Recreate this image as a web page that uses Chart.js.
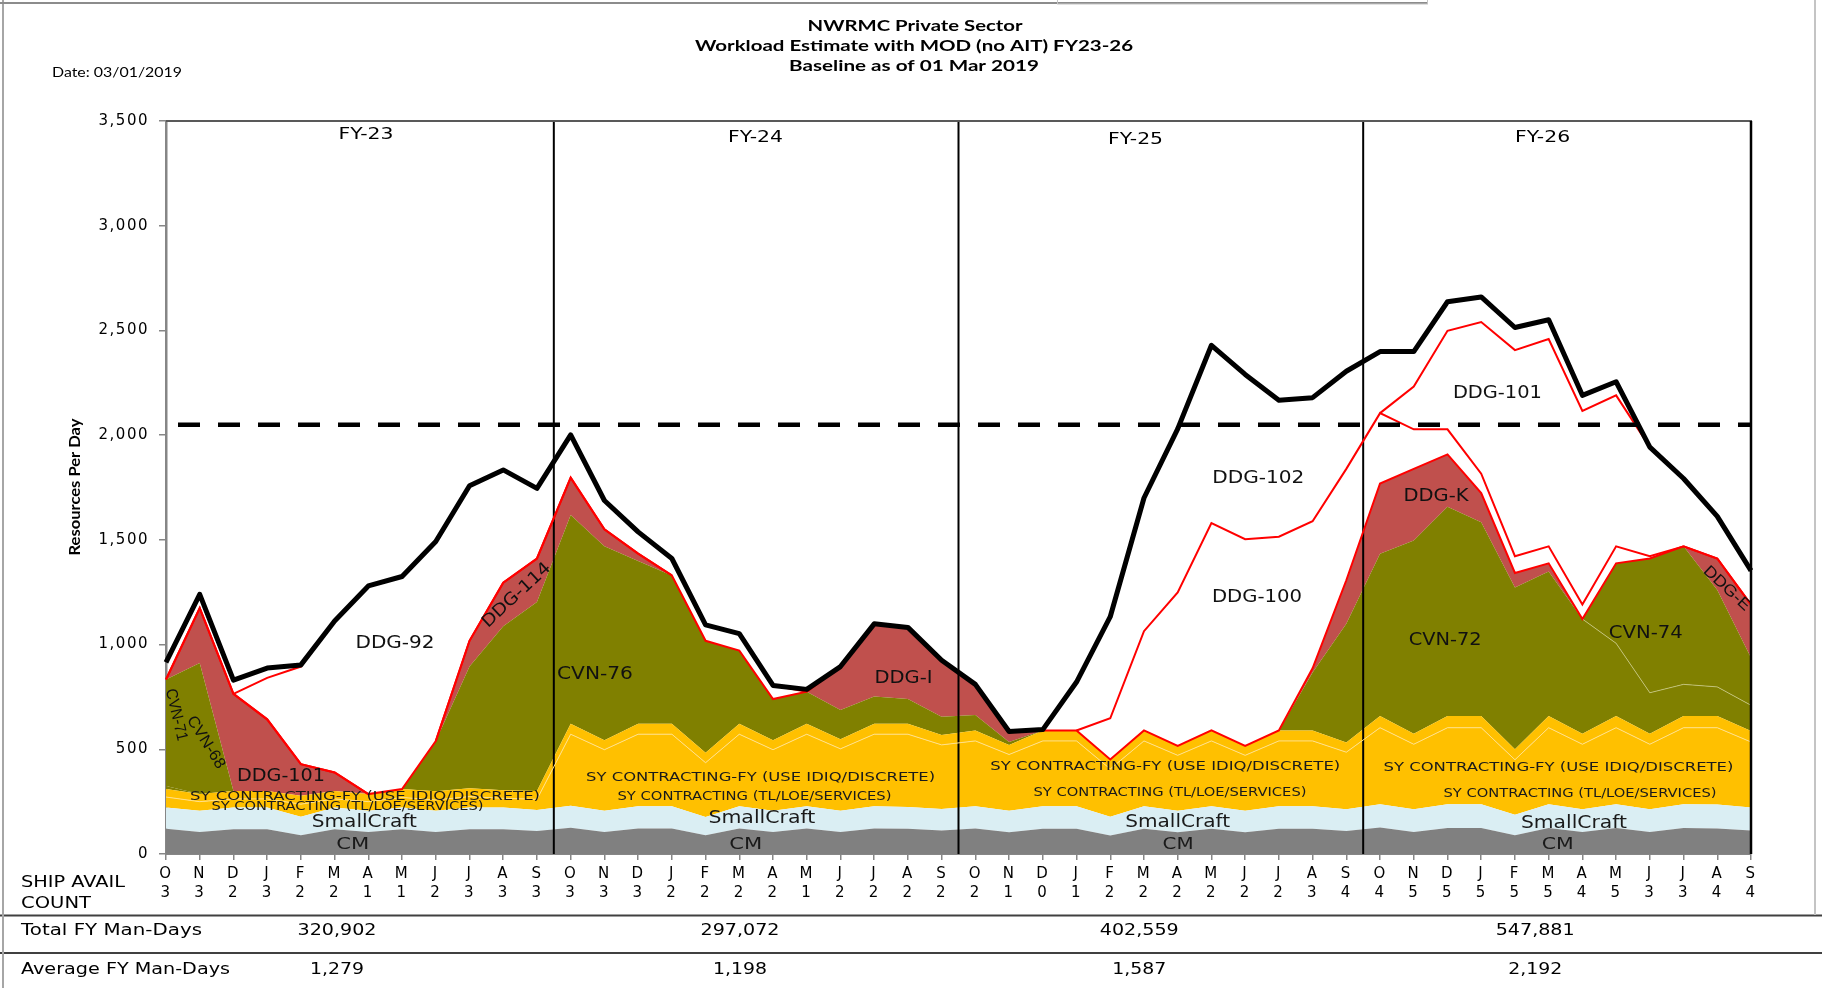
<!DOCTYPE html>
<html>
<head>
<meta charset="utf-8">
<title>NWRMC Private Sector - Workload Estimate FY23-26</title>
<script src="https://cdn.jsdelivr.net/npm/chart.js@4.4.1/dist/chart.umd.min.js"></script>
<style>
    html, body { margin: 0; padding: 0; background: #fff; }
    #wrap { position: relative; width: 1822px; height: 988px; }
</style>
</head>
<body>
<div id="wrap"><canvas id="workloadChart"></canvas></div>
<script>
// Month letters and ship availability count per month (FY23 .. FY26)
const months = ['O', 'N', 'D', 'J', 'F', 'M', 'A', 'M', 'J', 'J', 'A', 'S'];
const fiscalYears = ['FY-23', 'FY-24', 'FY-25', 'FY-26'];
const shipCount = [
    3, 3, 2, 3, 2, 2, 1, 1, 2, 3, 3, 3,
    3, 3, 3, 2, 2, 2, 2, 1, 2, 2, 2, 2,
    2, 1, 0, 1, 2, 2, 2, 2, 2, 2, 3, 4,
    4, 5, 5, 5, 5, 5, 4, 5, 3, 3, 4, 4
];
const fyTotalManDays = ['320,902', '297,072', '402,559', '547,881'];
const fyAverageManDays = ['1,279', '1,198', '1,587', '2,192'];
const yMax = 3500;
const yStep = 500;
const capacity = 2050;

// Stacked series, resources per day (bottom to top)
const cm = [
    120, 105, 118, 118, 90, 118, 105, 118, 105, 118, 118, 110,
    125, 105, 122, 122, 90, 122, 105, 122, 105, 122, 120, 112,
    122, 104, 120, 120, 88, 120, 104, 120, 104, 120, 120, 110,
    127, 105, 124, 124, 90, 124, 105, 124, 105, 124, 122, 112
];
const smallCraft = [
    102, 101, 104, 104, 88, 104, 101, 104, 101, 104, 104, 100,
    105, 101, 106, 106, 87, 106, 101, 106, 101, 106, 105, 103,
    106, 103, 108, 108, 90, 108, 103, 108, 103, 108, 108, 104,
    111, 109, 114, 114, 97, 114, 109, 114, 109, 114, 114, 110
];
const syFy = [
    50, 44, 41, 41, 60, 41, 44, 48, 52, 52, 44, 51,
    342, 292, 344, 344, 259, 344, 292, 344, 296, 344, 347, 306,
    312, 268, 312, 312, 228, 312, 264, 312, 264, 312, 312, 272,
    365, 310, 365, 365, 263, 365, 310, 365, 310, 365, 367, 313
];
const syTl = [
    38, 36, 38, 38, 40, 38, 36, 40, 42, 40, 38, 40,
    50, 45, 50, 50, 48, 50, 45, 50, 46, 50, 50, 47,
    50, 45, 50, 50, 45, 50, 45, 50, 45, 50, 50, 46,
    56, 50, 56, 56, 50, 56, 50, 56, 50, 56, 56, 52
];
const cvn71 = [
    15, 0, 0, 0, 0, 0, 0, 0, 0, 0, 0, 0,
    0, 0, 0, 0, 0, 0, 0, 0, 0, 0, 0, 0,
    0, 0, 0, 0, 0, 0, 0, 0, 0, 0, 0, 0,
    0, 0, 0, 0, 0, 0, 0, 0, 0, 0, 0, 0
];
const cvn68 = [
    508, 626, 0, 0, 0, 0, 0, 0, 0, 0, 0, 0,
    0, 0, 0, 0, 0, 0, 0, 0, 0, 0, 0, 0,
    0, 0, 0, 0, 0, 0, 0, 0, 0, 0, 0, 0,
    0, 0, 0, 0, 0, 0, 0, 0, 0, 0, 0, 0
];
const cvn76 = [
    0, 0, 0, 0, 0, 0, 0, 0, 239, 581, 783, 902,
    997, 926, 777, 708, 534, 349, 197, 153, 139, 130, 118, 87,
    74, 15, 0, 0, 0, 0, 0, 0, 0, 0, 0, 0,
    0, 0, 0, 0, 0, 0, 0, 0, 0, 0, 0, 0
];
const cvn72 = [
    0, 0, 0, 0, 0, 0, 0, 0, 0, 0, 0, 0,
    0, 0, 0, 0, 0, 0, 0, 0, 0, 0, 0, 0,
    0, 0, 0, 0, 0, 0, 0, 0, 0, 0, 277, 567,
    775, 923, 999, 925, 772, 690, 548, 347, 196, 151, 139, 123
];
const cvn74 = [
    0, 0, 0, 0, 0, 0, 0, 0, 0, 0, 0, 0,
    0, 0, 0, 0, 0, 0, 0, 0, 0, 0, 0, 0,
    0, 0, 0, 0, 0, 0, 0, 0, 0, 0, 0, 0,
    0, 0, 0, 0, 0, 0, 0, 382, 641, 659, 463, 227
];
const ddg101Fy23 = [
    0, 262, 464, 342, 151, 88, 0, 0, 0, 0, 0, 0,
    0, 0, 0, 0, 0, 0, 0, 0, 0, 0, 0, 0,
    0, 0, 0, 0, 0, 0, 0, 0, 0, 0, 0, 0,
    0, 0, 0, 0, 0, 0, 0, 0, 0, 0, 0, 0
];
const ddg114 = [
    0, 0, 0, 0, 0, 0, 0, 0, 0, 123, 208, 208,
    178, 81, 35, 0, 0, 0, 0, 0, 0, 0, 0, 0,
    0, 0, 0, 0, 0, 0, 0, 0, 0, 0, 0, 0,
    0, 0, 0, 0, 0, 0, 0, 0, 0, 0, 0, 0
];
const ddgI = [
    0, 0, 0, 0, 0, 0, 0, 0, 0, 0, 0, 0,
    0, 0, 0, 0, 0, 0, 0, 0, 208, 347, 342, 270,
    146, 50, 0, 0, 0, 0, 0, 0, 0, 0, 0, 0,
    0, 0, 0, 0, 0, 0, 0, 0, 0, 0, 0, 0
];
const ddgE = [
    0, 0, 0, 0, 0, 0, 0, 0, 0, 0, 0, 0,
    0, 0, 0, 0, 0, 0, 0, 0, 0, 0, 0, 0,
    0, 0, 0, 0, 0, 0, 0, 0, 0, 0, 0, 0,
    0, 0, 0, 0, 0, 0, 0, 0, 0, 0, 150, 254
];
const ddgK = [
    0, 0, 0, 0, 0, 0, 0, 0, 0, 0, 0, 0,
    0, 0, 0, 0, 0, 0, 0, 0, 0, 0, 0, 0,
    0, 0, 0, 0, 0, 0, 0, 0, 0, 0, 20, 208,
    335, 342, 250, 139, 70, 39, 0, 0, 0, 0, 0, 0
];
const ddg92 = [
    0, 0, 0, 198, 466, 722, 992, 1015, 953, 740, 539, 335,
    204, 138, 104, 81, 76, 81, 65, 0, 0, 0, 0, 0,
    0, 0, 0, 0, 0, 0, 0, 0, 0, 0, 0, 0,
    0, 0, 0, 0, 0, 0, 0, 0, 0, 0, 0, 0
];
const ddg100 = [
    0, 0, 0, 0, 0, 0, 0, 0, 0, 0, 0, 0,
    0, 0, 0, 0, 0, 0, 0, 0, 0, 0, 0, 0,
    0, 0, 0, 0, 197, 474, 733, 990, 987, 925, 702, 532,
    336, 189, 120, 93, 80, 81, 69, 81, 11, 0, 0, 0
];
const ddg101 = [
    0, 0, 0, 0, 0, 0, 0, 0, 0, 0, 0, 0,
    0, 0, 0, 0, 0, 0, 0, 0, 0, 0, 0, 0,
    0, 0, 0, 0, 0, 0, 0, 0, 0, 0, 0, 0,
    0, 204, 470, 724, 984, 990, 925, 721, 521, 324, 201, 162
];
// Total workload (black line)
const total = [
    915, 1240, 830, 888, 903, 1113, 1280, 1325, 1492, 1758, 1834, 1746,
    2001, 1688, 1538, 1411, 1094, 1052, 805, 786, 895, 1099, 1082, 925,
    810, 585, 594, 821, 1133, 1700, 2030, 2429, 2290, 2167, 2179, 2305,
    2399, 2399, 2637, 2660, 2514, 2551, 2190, 2255, 1943, 1793, 1612, 1353
];

// Text placed on the areas (x = month index, y = value)
const areaLabels = [
    { text: 'DDG-92', i: 6.79, v: 1005, w: 79 },
    { text: 'DDG-101', i: 3.41, v: 372, w: 88 },
    { text: 'CVN-71', i: 0.30, v: 665, w: 53, rot: 77, font: '16px "Liberation Sans"' },
    { text: 'CVN-68', i: 1.18, v: 533, w: 59, rot: 58, font: '16px "Liberation Sans"' },
    { text: 'DDG-114', i: 10.4, v: 1235, w: 87, rot: -43 },
    { text: 'CVN-76', i: 12.72, v: 856, w: 76 },
    { text: 'DDG-I', i: 21.87, v: 840, w: 58 },
    { text: 'DDG-102', i: 32.39, v: 1793, w: 92 },
    { text: 'DDG-100', i: 32.35, v: 1226, w: 90 },
    { text: 'DDG-101', i: 39.48, v: 2197, w: 89 },
    { text: 'DDG-K', i: 37.66, v: 1705, w: 65 },
    { text: 'CVN-72', i: 37.93, v: 1018, w: 73 },
    { text: 'CVN-74', i: 43.88, v: 1052, w: 74 },
    { text: 'DDG-E', i: 46.28, v: 1268, w: 58, rot: 43, font: '16px "Liberation Sans"' }
];
const syFyLabel = 'SY CONTRACTING-FY (USE IDIQ/DISCRETE)';
const syTlLabel = 'SY CONTRACTING (TL/LOE/SERVICES)';
const bandLabels = [
    { text: syFyLabel, i: 5.9, v: 274, w: 350, font: '13px "DejaVu Sans"' },
    { text: syFyLabel, i: 17.63, v: 366, w: 349, font: '13px "DejaVu Sans"' },
    { text: syFyLabel, i: 29.63, v: 416, w: 350, font: '13px "DejaVu Sans"' },
    { text: syFyLabel, i: 41.29, v: 411, w: 350, font: '13px "DejaVu Sans"' },
    { text: syTlLabel, i: 5.38, v: 223, w: 272, font: '12px "DejaVu Sans"' },
    { text: syTlLabel, i: 17.45, v: 274, w: 274, font: '12px "DejaVu Sans"' },
    { text: syTlLabel, i: 29.77, v: 294, w: 273, font: '12px "DejaVu Sans"' },
    { text: syTlLabel, i: 41.93, v: 289, w: 273, font: '12px "DejaVu Sans"' },
    { text: 'SmallCraft', i: 5.88, v: 151, w: 105, font: '17px "DejaVu Sans"' },
    { text: 'SmallCraft', i: 17.67, v: 167, w: 107, font: '17px "DejaVu Sans"' },
    { text: 'SmallCraft', i: 30.0, v: 150, w: 105, font: '17px "DejaVu Sans"' },
    { text: 'SmallCraft', i: 41.75, v: 143, w: 106, font: '17px "DejaVu Sans"' },
    { text: 'CM', i: 5.54, v: 44, w: 33, font: '16px "DejaVu Sans"' },
    { text: 'CM', i: 17.19, v: 44, w: 33, font: '16px "DejaVu Sans"' },
    { text: 'CM', i: 30.01, v: 45, w: 31, font: '16px "DejaVu Sans"' },
    { text: 'CM', i: 41.27, v: 43, w: 32, font: '16px "DejaVu Sans"' }
];
const fyLabelPos = [{ i: 5.93, v: 3431 }, { i: 17.48, v: 3417 }, { i: 28.75, v: 3408 }, { i: 40.82, v: 3417 }];
const fyBreaks = [11.5, 23.5, 35.5];
const fyTablePos = [5.07, 17.02, 28.86, 40.6];

const transparent = 'rgba(0,0,0,0)';
const red = '#FF0000';

// Hide the outline where the series is zero on both ends
function hideWhenZero(ctx) {
    return ctx.p0.parsed.y === 0 && ctx.p1.parsed.y === 0 ? transparent : undefined;
}

function area(label, data, color, line, width, segment) {
    return {
        label: label,
        data: data,
        backgroundColor: color,
        borderColor: line || transparent,
        borderWidth: line ? width : 0,
        fill: '-1',
        stack: 'workload',
        pointRadius: 0,
        pointHoverRadius: 0,
        tension: 0,
        segment: segment ? { borderColor: segment } : undefined
    };
}

// Write text, optionally rotated and stretched to a given width
function writeText(ctx, text, x, y, o) {
    o = o || {};
    ctx.save();
    ctx.font = o.font || '17px "DejaVu Sans"';
    ctx.fillStyle = o.color || '#000';
    ctx.letterSpacing = '0px';
    ctx.textAlign = o.align || 'center';
    ctx.textBaseline = 'middle';
    ctx.translate(x, y);
    if (o.rot) ctx.rotate(o.rot * Math.PI / 180);
    if (o.w) ctx.scale(o.w / ctx.measureText(text).width, 1);
    ctx.fillText(text, 0, 0);
    ctx.restore();
}

function strokeLine(ctx, x1, y1, x2, y2, color, width) {
    ctx.save();
    ctx.strokeStyle = color;
    ctx.lineWidth = width;
    ctx.beginPath();
    ctx.moveTo(x1, y1);
    ctx.lineTo(x2, y2);
    ctx.stroke();
    ctx.restore();
}

const datasets = [
    area('CM', cm, '#808080'),
    area('SmallCraft', smallCraft, '#DAEEF3'),
    area(syFyLabel, syFy, '#FFC000', '#FFE08A', 1),
    area(syTlLabel, syTl, '#FFC000'),
    area('CVN-71', cvn71, '#808000'),
    area('CVN-68', cvn68, '#808000'),
    area('CVN-76', cvn76, '#808000'),
    area('CVN-72', cvn72, '#808000'),
    area('CVN-74', cvn74, '#808000'),
    area('DDG-101 (FY23)', ddg101Fy23, '#C0504D', red, 2, hideWhenZero),
    area('DDG-114', ddg114, '#C0504D', red, 2, hideWhenZero),
    area('DDG-I', ddgI, '#C0504D', red, 2, hideWhenZero),
    area('DDG-E', ddgE, '#C0504D', red, 2, hideWhenZero),
    area('DDG-K', ddgK, '#C0504D', red, 2),
    area('DDG-92', ddg92, '#FFFFFF', red, 2, hideWhenZero),
    area('DDG-100', ddg100, '#FFFFFF', red, 2, hideWhenZero),
    area('DDG-101', ddg101, '#FFFFFF', red, 2, hideWhenZero),
    {
        label: 'Total',
        data: total,
        borderColor: '#000',
        borderWidth: 5,
        borderJoinStyle: 'round',
        fill: false,
        stack: 'total',
        order: -2,
        pointRadius: 0,
        tension: 0
    },
    {
        label: 'Capacity',
        data: total.map(() => capacity),
        borderColor: '#000',
        borderWidth: 4.5,
        borderDash: [22, 18],
        borderDashOffset: 28,
        fill: false,
        stack: 'capacity',
        order: -1,
        pointRadius: 0,
        tension: 0
    }
];
datasets[0].fill = 'origin';
const cvn72Index = 7;

const decorations = {
    id: 'decorations',
    beforeDraw(chart) {
        const ctx = chart.ctx;
        ctx.save();
        ctx.fillStyle = '#fff';
        ctx.fillRect(0, 0, chart.width, chart.height);
        ctx.restore();
        ctx.letterSpacing = '1.5px';
    },
    beforeDatasetsDraw(chart) {
        const { ctx, chartArea: a, scales: { x } } = chart;
        // faint line between CVN-72 and CVN-74 (top of the CVN-72 stack)
        const pts = chart.getDatasetMeta(cvn72Index).data;
        ctx.save();
        ctx.strokeStyle = 'rgba(205,205,140,0.75)';
        ctx.lineWidth = 1;
        ctx.beginPath();
        let started = false;
        for (let i = 0; i < pts.length; i++) {
            const near = cvn74[i] > 0 || cvn74[i + 1] > 0 || cvn74[i - 1] > 0;
            if (!near) continue;
            if (!started) { ctx.moveTo(pts[i].x, pts[i].y); started = true; }
            else ctx.lineTo(pts[i].x, pts[i].y);
        }
        ctx.stroke();
        ctx.restore();

        fyBreaks.forEach(b => {
            const px = x.getPixelForValue(b);
            strokeLine(ctx, px, a.top, px, a.bottom, '#000', 2);
        });
    },
    afterDatasetsDraw(chart) {
        const { ctx, chartArea: a, scales: { x, y } } = chart;
        areaLabels.forEach(l => {
            writeText(ctx, l.text, x.getPixelForValue(l.i), y.getPixelForValue(l.v),
                { w: l.w, rot: l.rot, font: l.font, color: '#111' });
        });
        bandLabels.forEach(l => {
            writeText(ctx, l.text, x.getPixelForValue(l.i), y.getPixelForValue(l.v),
                { w: l.w, font: l.font, color: '#1a1a1a' });
        });
        fiscalYears.forEach((fy, k) => {
            writeText(ctx, fy, x.getPixelForValue(fyLabelPos[k].i), y.getPixelForValue(fyLabelPos[k].v),
                { w: 55, font: '15px "DejaVu Sans"' });
        });
        strokeLine(ctx, a.left, a.top, a.right + 1, a.top, '#595959', 2);
        strokeLine(ctx, a.right, a.top, a.right, a.bottom, '#000', 2.5);
    },
    afterDraw(chart) {
        const { ctx, scales: { x } } = chart;
        const title = '15px "Lato"';
        writeText(ctx, 'NWRMC Private Sector', 915, 26, { font: 'bold ' + title, w: 215 });
        writeText(ctx, 'Workload Estimate with MOD (no AIT) FY23-26', 914, 46.5, { font: 'bold ' + title, w: 438 });
        writeText(ctx, 'Baseline as of 01 Mar 2019', 914, 66.5, { font: 'bold ' + title, w: 250 });
        writeText(ctx, 'Date: 03/01/2019', 52, 73, { font: '13px "Lato"', w: 130, align: 'left' });
        writeText(ctx, 'Resources Per Day', 75, 487, { font: 'bold 16px "Lato"', w: 137, rot: -90 });

        // Ship count caption and man-day table
        const small = '15px "DejaVu Sans"';
        writeText(ctx, 'SHIP AVAIL', 21, 883, { font: small, w: 104, align: 'left' });
        writeText(ctx, 'COUNT', 21, 904, { font: small, w: 70, align: 'left' });
        writeText(ctx, 'Total FY Man-Days', 21, 931, { font: small, w: 181, align: 'left' });
        writeText(ctx, 'Average FY Man-Days', 21, 970, { font: small, w: 209, align: 'left' });
        fyTotalManDays.forEach((t, k) => {
            writeText(ctx, t, x.getPixelForValue(fyTablePos[k]), 931, { font: small, w: 79 });
        });
        fyAverageManDays.forEach((t, k) => {
            writeText(ctx, t, x.getPixelForValue(fyTablePos[k]), 970, { font: small, w: 54 });
        });
        strokeLine(ctx, 0, 915.5, 1822, 915.5, '#404040', 2);
        strokeLine(ctx, 0, 953, 1822, 953, '#404040', 2);

        // Page frame
        strokeLine(ctx, 3, 0, 3, 988, '#a6a6a6', 2);
        strokeLine(ctx, 0, 3, 1427, 3, '#8c8c8c', 2);
        strokeLine(ctx, 1815, 0, 1815, 915, '#c4c4c4', 2);
        ctx.save();
        ctx.strokeStyle = '#c4c4c4';
        ctx.lineWidth = 1;
        ctx.strokeRect(1057.5, -1, 370, 5);
        ctx.restore();
    }
};

// Build the chart
function drawChart() {
    const ctx = document.getElementById('workloadChart').getContext('2d');
    new Chart(ctx, {
        type: 'line',
        data: {
            labels: shipCount.map((c, i) => [months[i % 12], String(c)]),
            datasets: datasets
        },
        options: {
            responsive: true,
            maintainAspectRatio: false,
            animation: false,
            layout: { padding: { top: 121, right: 71, bottom: 84, left: 0 } },
            plugins: {
                legend: { display: false },
                tooltip: { enabled: false },
                filler: { drawTime: 'beforeDatasetsDraw', propagate: false }
            },
            scales: {
                x: {
                    type: 'category',
                    offset: false,
                    z: 1,
                    grid: { drawOnChartArea: false, drawTicks: true, tickLength: 6, color: '#868686', lineWidth: 1.5 },
                    border: { display: true, color: '#868686', width: 2 },
                    ticks: {
                        autoSkip: false,
                        maxRotation: 0,
                        minRotation: 0,
                        padding: 5,
                        color: '#000',
                        font: { family: 'DejaVu Sans', size: 15, lineHeight: 1.25 }
                    },
                    afterFit: s => { s.height = 50; s.paddingLeft = 0; s.paddingRight = 0; }
                },
                y: {
                    stacked: true,
                    min: 0,
                    max: yMax,
                    z: 1,
                    grid: { drawOnChartArea: false, drawTicks: true, tickLength: 7, color: '#868686', lineWidth: 1.5 },
                    border: { display: true, color: '#868686', width: 2.5 },
                    ticks: {
                        stepSize: yStep,
                        padding: 10,
                        color: '#000',
                        font: { family: 'DejaVu Sans', size: 15 },
                        callback: v => v.toLocaleString('en-US')
                    },
                    afterFit: s => { s.width = 166; s.paddingTop = 0; s.paddingBottom = 0; }
                }
            }
        },
        plugins: [decorations]
    });
}

document.addEventListener('DOMContentLoaded', () => {
    drawChart();
});
</script>
</body>
</html>
